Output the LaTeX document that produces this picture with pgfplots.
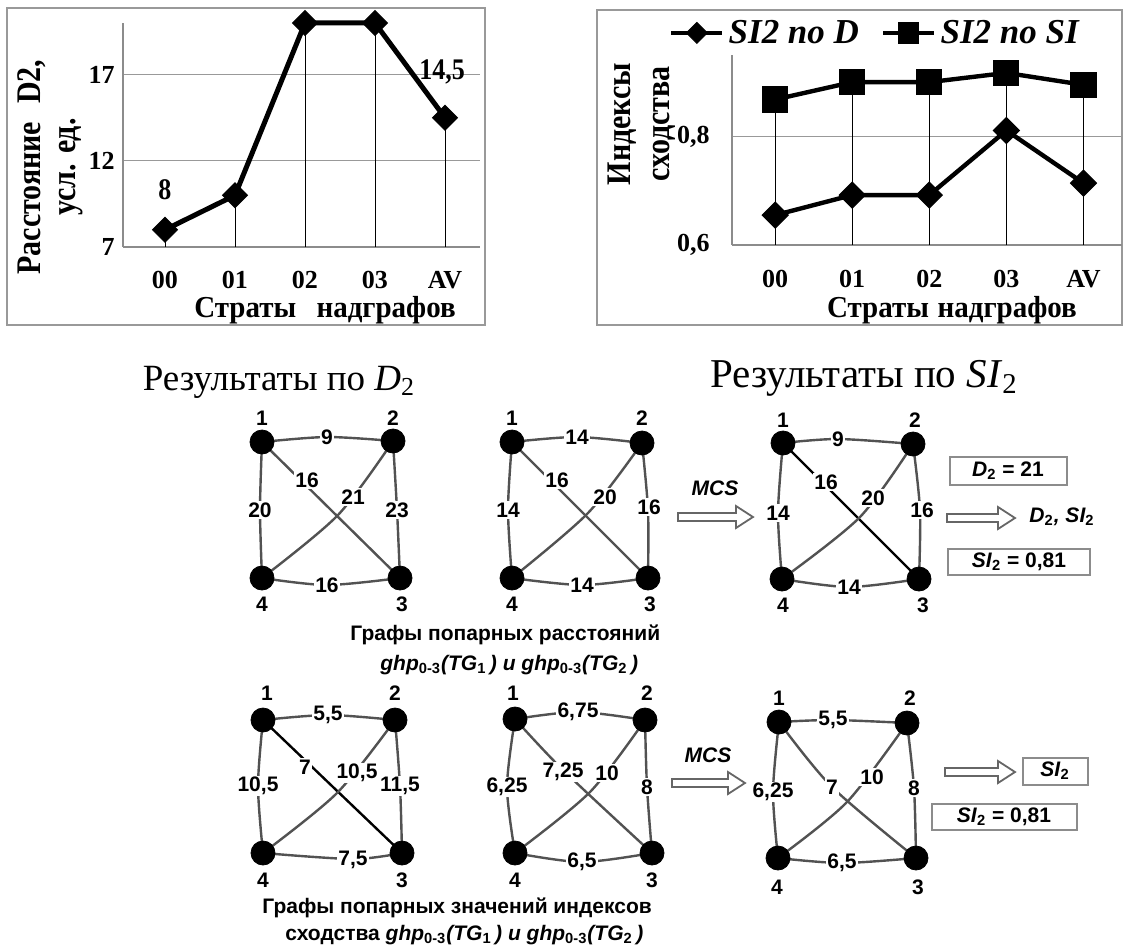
\documentclass[border=0pt]{standalone}
\usepackage{fontspec}
\setmainfont{Liberation Serif}
\newfontfamily\arialf{Liberation Sans}
\usepackage{graphicx}
\usepackage{pgfplots}
\pgfplotsset{compat=1.18}
\newcommand\vs[1]{\scalebox{1}[1.15]{#1}}
\newcommand\vsl[1]{\scalebox{1}[1.05]{#1}}
\tikzset{
 edge/.style={draw=black!68, line width=1.2pt},
 edgeb/.style={draw=black, line width=1.2pt},
 lbl/.style={font=\arialf\bfseries\fontsize{10.5}{12}\selectfont, fill=white, inner sep=0.7pt},
 nlbl/.style={font=\arialf\bfseries\fontsize{10.5}{12}\selectfont, inner sep=0pt},
 capf/.style={font=\arialf\bfseries\fontsize{10.5}{12}\selectfont, inner sep=0pt, anchor=west},
 boxst/.style={draw=black!45, line width=0.8pt},
 harrow/.style={draw=black!60, line width=0.9pt, fill=white, line join=miter},
}
\begin{document}
\begin{tikzpicture}
% ---------- background axis in pixel coordinates ----------
\begin{axis}[at={(0,0)}, anchor=south west, scale only axis, width=562.5pt, height=474pt,
  xmin=0, xmax=1125, ymin=0, ymax=948, y dir=reverse, axis lines=none, ticks=none, clip=false]
% frames of the two charts
\draw[draw=black!40, line width=1pt] (axis cs:7,8) rectangle (axis cs:485,325);
\draw[draw=black!40, line width=1pt] (axis cs:597,10) rectangle (axis cs:1122,325);
% ---- graph 1 ----
\addplot[edge, smooth] coordinates {(262,442)(327,437)(393,441)};
\addplot[edge, smooth] coordinates {(262,578)(327,585)(400,578)};
\addplot[edge, smooth] coordinates {(262,442)(260,510)(262,578)};
\addplot[edge, smooth] coordinates {(393,441)(397,510)(400,578)};
\addplot[edge] coordinates {(262,442)(400,578)};
\addplot[edge, smooth] coordinates {(393,441)(338,515)(262,578)};
% ---- graph 2 ----
\addplot[edge, smooth] coordinates {(512,442)(577,437)(642,443)};
\addplot[edge, smooth] coordinates {(512,578)(582,585)(648,578)};
\addplot[edge, smooth] coordinates {(512,442)(508,510)(512,578)};
\addplot[edge, smooth] coordinates {(642,443)(648,510)(648,578)};
\addplot[edge] coordinates {(512,442)(648,578)};
\addplot[edge, smooth] coordinates {(642,443)(588,513)(512,578)};
% ---- graph 3 ----
\addplot[edge, smooth] coordinates {(783,443)(838,439)(913,444)};
\addplot[edge, smooth] coordinates {(782,579)(849,587)(919,579)};
\addplot[edge, smooth] coordinates {(783,443)(778,513)(782,579)};
\addplot[edge, smooth] coordinates {(913,444)(920,510)(919,579)};
\addplot[edgeb] coordinates {(783,443)(919,579)};
\addplot[edge, smooth] coordinates {(913,444)(860,517)(782,579)};
% ---- graph 4 ----
\addplot[edge, smooth] coordinates {(263,720)(328,715)(395,720)};
\addplot[edge, smooth] coordinates {(263,853)(353,859)(402,853)};
\addplot[edge, smooth] coordinates {(263,720)(258,786)(263,853)};
\addplot[edge, smooth] coordinates {(395,720)(400,786)(402,853)};
\addplot[edgeb] coordinates {(263,720)(402,853)};
\addplot[edge, smooth] coordinates {(395,720)(337,793)(263,853)};
% ---- graph 5 ----
\addplot[edge, smooth] coordinates {(515,719)(578,712)(645,720)};
\addplot[edge, smooth] coordinates {(515,853)(582,862)(652,853)};
\addplot[edge, smooth] coordinates {(515,719)(507,787)(515,853)};
\addplot[edge, smooth] coordinates {(645,720)(647,787)(652,853)};
\addplot[edge, smooth] coordinates {(515,719)(563,770)(652,853)};
\addplot[edge, smooth] coordinates {(645,720)(590,792)(515,853)};
% ---- graph 6 ----
\addplot[edge, smooth] coordinates {(779,722)(833,720)(907,723)};
\addplot[edge, smooth] coordinates {(778,858)(842,863)(916,858)};
\addplot[edge, smooth] coordinates {(779,722)(773,792)(778,858)};
\addplot[edge, smooth] coordinates {(907,723)(914,788)(916,858)};
\addplot[edge, smooth] coordinates {(779,722)(832,787)(916,858)};
\addplot[edge, smooth] coordinates {(907,723)(847,802)(778,858)};
% ---- vertices ----
\addplot[only marks, mark=*, mark size=6pt, black] coordinates {
 (262,442)(393,441)(400,578)(262,578)
 (512,442)(642,443)(648,578)(512,578)
 (783,443)(913,444)(919,579)(782,579)
 (263,720)(395,720)(402,853)(263,853)
 (515,719)(645,720)(652,853)(515,853)
 (779,722)(907,723)(916,858)(778,858)};
% ---- edge labels ----
\node[lbl] at (axis cs:327,437) {9};
\node[lbl] at (axis cs:307,480) {16};
\node[lbl] at (axis cs:353,497) {21};
\node[lbl] at (axis cs:260,510) {20};
\node[lbl] at (axis cs:397,510) {23};
\node[lbl] at (axis cs:327,585) {16};
\node[lbl] at (axis cs:577,437) {14};
\node[lbl] at (axis cs:557,480) {16};
\node[lbl] at (axis cs:605,497) {20};
\node[lbl] at (axis cs:508,510) {14};
\node[lbl] at (axis cs:649,507) {16};
\node[lbl] at (axis cs:582,585) {14};
\node[lbl] at (axis cs:838,439) {9};
\node[lbl] at (axis cs:826,482) {16};
\node[lbl] at (axis cs:873,498) {20};
\node[lbl] at (axis cs:778,513) {14};
\node[lbl] at (axis cs:922,510) {16};
\node[lbl] at (axis cs:849,587) {14};
\node[lbl] at (axis cs:328,715) {5,5};
\node[lbl] at (axis cs:305,767) {7};
\node[lbl] at (axis cs:357,773) {10,5};
\node[lbl] at (axis cs:258,786) {10,5};
\node[lbl] at (axis cs:400,786) {11,5};
\node[lbl] at (axis cs:353,860) {7,5};
\node[lbl] at (axis cs:578,712) {6,75};
\node[lbl] at (axis cs:563,772) {7,25};
\node[lbl] at (axis cs:607,773) {10};
\node[lbl] at (axis cs:507,787) {6,25};
\node[lbl] at (axis cs:647,787) {8};
\node[lbl] at (axis cs:582,862) {6,5};
\node[lbl] at (axis cs:833,720) {5,5};
\node[lbl] at (axis cs:832,787) {7};
\node[lbl] at (axis cs:872,777) {10};
\node[lbl] at (axis cs:773,792) {6,25};
\node[lbl] at (axis cs:914,788) {8};
\node[lbl] at (axis cs:842,863) {6,5};
% ---- vertex numbers ----
\node[nlbl] at (axis cs:262,418) {1};
\node[nlbl] at (axis cs:393,418) {2};
\node[nlbl] at (axis cs:402,604) {3};
\node[nlbl] at (axis cs:262,604) {4};
\node[nlbl] at (axis cs:512,418) {1};
\node[nlbl] at (axis cs:642,418) {2};
\node[nlbl] at (axis cs:650,604) {3};
\node[nlbl] at (axis cs:512,604) {4};
\node[nlbl] at (axis cs:783,420) {1};
\node[nlbl] at (axis cs:915,420) {2};
\node[nlbl] at (axis cs:923,605) {3};
\node[nlbl] at (axis cs:783,605) {4};
\node[nlbl] at (axis cs:267,693) {1};
\node[nlbl] at (axis cs:395,693) {2};
\node[nlbl] at (axis cs:402,880) {3};
\node[nlbl] at (axis cs:263,880) {4};
\node[nlbl] at (axis cs:513,693) {1};
\node[nlbl] at (axis cs:647,693) {2};
\node[nlbl] at (axis cs:652,880) {3};
\node[nlbl] at (axis cs:515,880) {4};
\node[nlbl] at (axis cs:779,698) {1};
\node[nlbl] at (axis cs:910,698) {2};
\node[nlbl] at (axis cs:918,887) {3};
\node[nlbl] at (axis cs:777,887) {4};
% ---- headings ----
\node[font=\fontsize{18.5}{20}\selectfont, inner sep=0pt] at (axis cs:279,382) {Результаты по \textit{D}\textsubscript{2}};
\node[font=\fontsize{20.5}{22}\selectfont, inner sep=0pt] at (axis cs:864,378) {Результаты по \textit{SI}\textsubscript{2}};
% ---- captions ----
\node[capf] at (axis cs:350,635) {Графы попарных расстояний};
\node[capf] at (axis cs:380,665) {\itshape ghp\textsubscript{\upshape 0-3}(TG\textsubscript{\upshape 1}\,) и ghp\textsubscript{\upshape 0-3}(TG\textsubscript{\upshape 2}\,)};
\node[capf] at (axis cs:262,908) {Графы попарных значений индексов};
\node[capf] at (axis cs:285,935) {сходства \itshape ghp\textsubscript{\upshape 0-3}(TG\textsubscript{\upshape 1}\,) и ghp\textsubscript{\upshape 0-3}(TG\textsubscript{\upshape 2}\,)};
% ---- MCS arrows ----
\node[nlbl, font=\arialf\bfseries\itshape\fontsize{10.5}{12}\selectfont] at (axis cs:715,488) {MCS};
\node[nlbl, font=\arialf\bfseries\itshape\fontsize{10.5}{12}\selectfont] at (axis cs:708,755) {MCS};
\draw[harrow] (axis cs:678,513) -- (axis cs:736,513) -- (axis cs:736,506) -- (axis cs:753,517) -- (axis cs:736,528) -- (axis cs:736,521) -- (axis cs:678,521) -- cycle;
\draw[harrow] (axis cs:947,514) -- (axis cs:998,514) -- (axis cs:998,507) -- (axis cs:1015,518) -- (axis cs:998,529) -- (axis cs:998,522) -- (axis cs:947,522) -- cycle;
\draw[harrow] (axis cs:672,779) -- (axis cs:728,779) -- (axis cs:728,772) -- (axis cs:745,783) -- (axis cs:728,794) -- (axis cs:728,787) -- (axis cs:672,787) -- cycle;
\draw[harrow] (axis cs:945,768) -- (axis cs:998,768) -- (axis cs:998,761) -- (axis cs:1015,772) -- (axis cs:998,783) -- (axis cs:998,776) -- (axis cs:945,776) -- cycle;
% ---- result boxes ----
\draw[boxst] (axis cs:950,457) rectangle (axis cs:1067,485);
\node[nlbl] at (axis cs:1008,471) {\textit{D}\textsubscript{2} = 21};
\node[nlbl] at (axis cs:1062,517) {\itshape D\textsubscript{\upshape 2}, SI\textsubscript{\upshape 2}};
\draw[boxst] (axis cs:948,549) rectangle (axis cs:1090,575);
\node[nlbl] at (axis cs:1019,562) {\textit{SI}\textsubscript{2} = 0,81};
\draw[boxst] (axis cs:1023,758) rectangle (axis cs:1088,785);
\node[nlbl] at (axis cs:1055,771) {\textit{SI}\textsubscript{2}};
\draw[boxst] (axis cs:932,804) rectangle (axis cs:1077,830);
\node[nlbl] at (axis cs:1004,817) {\textit{SI}\textsubscript{2} = 0,81};
\end{axis}

% ---------- top-left chart ----------
\begin{axis}[at={(61.5pt,350.5pt)}, anchor=south west, scale only axis, width=178.5pt, height=112pt,
  xmin=-0.6, xmax=4.5, ymin=7, ymax=20, clip=false,
  axis lines*=left, axis line style={draw=black!45, line width=0.6pt},
  xtick={0,1,2,3,4}, xticklabels={00,01,02,03,AV}, ytick={7,12,17},
  major tick length=0pt,
  ymajorgrids, grid style={black!40, line width=0.5pt},
  /pgf/number format/assume math mode=true,
  tick label style={font=\bfseries\fontsize{13}{14}\selectfont, inner sep=0pt},
  x tick label style={yshift=-11.8pt},
  y tick label style={xshift=-4pt},
  xlabel={\vsl{Страты\hspace{0.7em}надграфов}},
  xlabel style={at={(axis description cs:0.566,-0.283)}, anchor=center, inner sep=0pt, font=\bfseries\fontsize{14.5}{16}\selectfont},
  ylabel={\vs{Расстояние\hspace{0.6em}D2,}\\\vs{усл. ед.}},
  ylabel style={at={(axis description cs:-0.204,0.357)}, anchor=center, align=center, inner sep=0pt, font=\bfseries\fontsize{15}{17.5}\selectfont},
]
\addplot[only marks, mark=none, forget plot, error bars/.cd, y dir=minus, y explicit, error mark=none,
  error bar style={black, line width=0.4pt}]
  coordinates {(0,8) -= (0,1) (1,10) -= (0,3) (2,20) -= (0,13) (3,20) -= (0,13) (4,14.5) -= (0,7.5)};
\addplot[black, line width=2.5pt, mark=square*, mark size=4.4pt, mark options={rotate=45, line width=0.5pt}]
  coordinates {(0,8)(1,10)(2,20)(3,20)(4,14.5)};
\node[font=\bfseries\fontsize{13}{14}\selectfont] at (axis cs:0,10.3) {\vs{8}};
\node[font=\bfseries\fontsize{13}{14}\selectfont] at (axis cs:3.96,17.16) {\vs{14,5}};
\end{axis}

% ---------- top-right chart ----------
\begin{axis}[at={(366pt,351.5pt)}, anchor=south west, scale only axis, width=195pt, height=95pt,
  xmin=-0.56, xmax=4.5, ymin=0.6, ymax=0.95, clip=false,
  axis lines*=left, axis line style={draw=black!45, line width=0.6pt},
  xtick={0,1,2,3,4}, xticklabels={00,01,02,03,AV}, ytick={0.6,0.8}, yticklabels={{0,6},{0,8}},
  major tick length=0pt,
  ymajorgrids, grid style={black!40, line width=0.5pt},
  /pgf/number format/assume math mode=true,
  tick label style={font=\bfseries\fontsize{13}{14}\selectfont, inner sep=0pt},
  x tick label style={yshift=-12.3pt},
  y tick label style={xshift=-11pt},
  xlabel={\vsl{Страты\hspace{0.3em}надграфов}},
  xlabel style={at={(axis description cs:0.564,-0.345)}, anchor=center, inner sep=0pt, font=\bfseries\fontsize{14.5}{16}\selectfont},
  ylabel={\vs{Индексы}\\\vs{сходства}},
  ylabel style={at={(axis description cs:-0.231,0.637)}, anchor=center, align=center, inner sep=0pt, font=\bfseries\fontsize{15}{19.5}\selectfont},
  legend columns=2,
  legend style={at={(axis description cs:0.369,1.116)}, anchor=center, draw=none, fill=none,
    font=\bfseries\itshape\fontsize{17.5}{19}\selectfont, inner sep=0pt,
    /tikz/every even column/.append style={column sep=9pt}},
  legend image code/.code={\draw[mark repeat=2,mark phase=2,#1] plot coordinates {(0cm,0cm) (0.45cm,0cm) (0.9cm,0cm)};},
  legend image post style={every mark/.append style={scale=0.8}},
]
\addplot[only marks, mark=none, forget plot, error bars/.cd, y dir=minus, y explicit, error mark=none,
  error bar style={black, line width=0.4pt}]
  coordinates {(0,0.868) -= (0,0.268) (1,0.9) -= (0,0.3) (2,0.9) -= (0,0.3) (3,0.917) -= (0,0.317) (4,0.895) -= (0,0.295)};
\addplot[black, line width=2.2pt, mark=square*, mark size=4.6pt, mark options={rotate=45, line width=0.5pt}]
  coordinates {(0,0.655)(1,0.692)(2,0.692)(3,0.811)(4,0.714)};
\addlegendentry{SI2 по D}
\addplot[black, line width=2.2pt, mark=square*, mark size=6.3pt, mark options={line width=0.5pt}]
  coordinates {(0,0.868)(1,0.9)(2,0.9)(3,0.917)(4,0.895)};
\addlegendentry{SI2 по SI}
\end{axis}
\pgfresetboundingbox
\useasboundingbox (0,0) rectangle (562.5pt,474pt);
\end{tikzpicture}
\end{document}
